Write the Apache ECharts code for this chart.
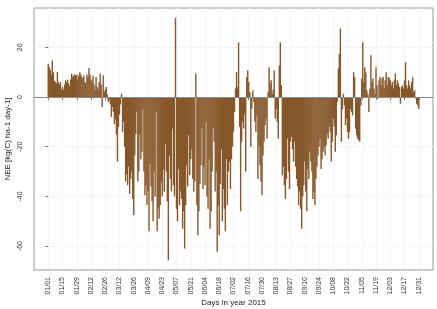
<!DOCTYPE html>
<html>
<head>
<meta charset="utf-8">
<script src="https://cdn.jsdelivr.net/npm/echarts@6/dist/echarts.min.js"></script>
<style>html,body{margin:0;padding:0;background:#fff}#c{width:437px;height:309px}</style>
</head>
<body>
<div id="c"></div>
<script>
// Daily NEE values, day index 0 = 01/01/2015
const nee = [
13.4,12,11,9,14.7,10,6.5,6,5.5,10,
6,5,6,3,4,3,5,6.7,6,7,
5.5,4.5,7,9.4,8,8.7,9,8.5,9,7,
8.5,10,9,8,7.5,8.5,6,5.5,9,8,
11.7,9,7,6,8.5,5,3,8,4,3,
6,9.4,5,-4,8.7,2,3,4,1,-2,
-1,-3,-8,-4,-6,-11,-9,-15,-26,-12,
-7,-3,1.3,-14,-10,-20,-34,-31,-35.5,-28,
-39,-33,-30,-41,-47.6,-23.5,-15,-6,-34,-30,
-15,-25,-22,-5,-30,
-39.5,-35.5,-43.5,-38,-54,-27,-36,-42,-50,-30,
-40,-6,-54,-45,-49,-43.5,-34,-40,-29,-38,
-19,-30,-42,-65.7,-23.5,-33,-38,-12.7,-35.5,-40,
31.8,-45,-50,-29,-43.5,-38,-41,-53,-46,-61,
-43.5,-27.5,-36,-15.4,-31.5,-25,-21,-33,-38,-34,
9.4,-43.5,-55.6,-46,-35,-27.5,-12.7,-37,-28,-35.5,
-10,-40,-45,-25,-53,-46,-30,-12.7,-18,-38,
-30,-62.3,-43.5,-55.6,-35,-21,-50,-37,-45,-54,
-25,-43.5,-30,-26,-37,-25,-20,-14,-6,3.4,
10,4,22,-12,-46,-18,-10,-12.7,-7,
-30,8,10.7,6,2,-20,-4.7,2.7,-2,-10,
-14,-7.4,-33,-20,-27.5,-34,-39.5,-23.5,-18,-11.4,
-8.7,-16.8,2,12,5.4,6.7,1.3,3,10.7,-8.7,
-4.7,-10,-16.8,12.7,22,4.7,-31.5,-28,-35.5,-41,
-33,-16.8,-30,-37,-18,-16,-21,-26,-18,-28,
-33,-36,-43.5,-38,-45,-53,-40,-35.5,-26,-38,
-46,-29,-33,-22,-26,-30,-41,-38,-43.5,-33,
-28,-23.5,-20,-16.8,-29,-25,-22,-20,-23.5,-19.4,
-15,-16.8,-12,-14,-26,-18,-8.7,-12,-22,-15.4,
-2,11.4,17.4,27.5,-18,-5,1.3,
-3.4,-11.4,-8.7,-14,-16.8,-14,-4.7,-6,-7.4,
10,8,-12.7,-15.4,-16.8,-17.4,-18,-3.4,7.4,22,
6,12,10,2.7,1.3,-6,3.4,16.8,6,7.4,
3.4,1.3,12,4.7,-0.7,6.7,8,4.7,7.4,8,
3.4,6.7,10,4.7,8,7.6,6.7,4.7,6,3.4,
6.7,9.4,4.7,6.7,5.4,4,-2.7,4,4.7,3.4,
6.7,14,4.7,3.4,6.7,4.7,3.4,6,8,2,
2.7,-0.7,-2.7,-3.4,-4.7
];
const tickLabels = ['01/01','01/15','01/29','02/12','02/26','03/12','03/26','04/09','04/23','05/07',
'05/21','06/04','06/18','07/02','07/16','07/30','08/13','08/27','09/10','09/24','10/08','10/22',
'11/05','11/19','12/03','12/17','12/31'];
const tickDays = [0,14,28,42,56,70,84,98,112,126,140,154,168,182,196,210,224,238,252,266,280,294,308,322,336,350,364];
const yTicks = [-60,-40,-20,0,20];

const font = 'Liberation Sans';
const chart = echarts.init(document.getElementById('c'), null, {renderer:'canvas'});
chart.setOption({
  animation:false,
  backgroundColor:'#fff',
  grid:{left:34,right:4,top:8,bottom:39,show:true,borderColor:'#9a9a9a',borderWidth:1,
    containLabel:false,outerBoundsMode:'none'},
  xAxis:{
    type:'value', min:-14, max:378,
    name:'Days in year 2015', nameLocation:'middle', nameGap:29, nameMoveOverlap:false,
    nameTextStyle:{fontFamily:font,fontSize:8,color:'#222'},
    axisLine:{show:false},
    axisTick:{show:true,length:3,inside:false,customValues:tickDays,lineStyle:{color:'#777'}},
    axisLabel:{rotate:90,fontFamily:font,fontSize:7,color:'#333',margin:7,customValues:tickDays,
      formatter:v=>{const i=tickDays.indexOf(v);return i>=0?tickLabels[i]:'';}},
    splitLine:{show:true,lineStyle:{color:'#ececec',type:'dotted',width:1}}
  },
  yAxis:{
    type:'value', min:-69.6, max:35.8,
    name:'NEE [kg(C) ha-1 day-1]', nameLocation:'middle', nameGap:22, nameMoveOverlap:false,
    nameTextStyle:{fontFamily:font,fontSize:8,color:'#222'},
    axisLine:{show:false},
    axisTick:{show:true,length:3,customValues:yTicks,lineStyle:{color:'#777'}},
    axisLabel:{rotate:90,fontFamily:font,fontSize:7,color:'#333',margin:10,customValues:yTicks,
      formatter:v=>String(v)},
    splitLine:{show:true,lineStyle:{color:'#ececec',type:'dotted',width:1}}
  },
  series:[{
    type:'bar',
    data:nee.map((v,i)=>[i,v]),
    barWidth:1.4,
    itemStyle:{color:'#86572a'},
    markLine:{silent:true,symbol:'none',label:{show:false},
      lineStyle:{color:'#8a8a8a',type:'solid',width:1},data:[{yAxis:0}]}
  }]
});
</script>
</body>
</html>
